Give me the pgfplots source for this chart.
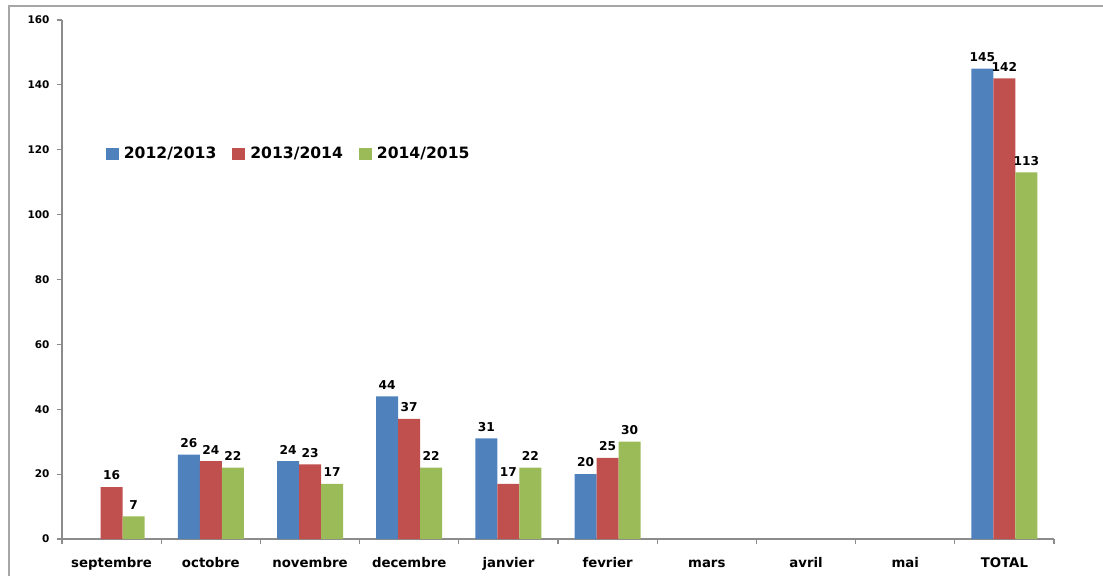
\documentclass[border=0pt]{standalone}
\usepackage{fontspec}
\setmainfont{DejaVu Sans}
\usepackage{pgfplots}
\pgfplotsset{compat=1.18}
\definecolor{cblue}{HTML}{4F81BD}
\definecolor{cred}{HTML}{C0504D}
\definecolor{cgreen}{HTML}{9BBB59}
\definecolor{axgray}{HTML}{8C8C8C}
\definecolor{framegray}{HTML}{A6A6A6}
\begin{document}
\begin{tikzpicture}
\useasboundingbox (0,0) rectangle (1103pt,576pt);
\draw[framegray, line width=1.5pt] (9pt,0) -- (9pt,570pt) -- (1103pt,570pt);
\begin{axis}[
 at={(62pt,37pt)}, anchor=south west,
 scale only axis, width=992pt, height=519pt,
 xmin=-0.5, xmax=9.5, ymin=0, ymax=160,
 ytick={0,20,...,160},
 xtick={0,...,9},
 xticklabels={septembre,octobre,novembre,decembre,janvier,fevrier,mars,avril,mai,TOTAL},
 minor xtick={-0.5,0.5,...,9.5},
 major x tick style={draw=none},
 axis x line*=bottom, axis y line*=left,
 axis line style={axgray, line width=1.5pt, -},
 tick style={axgray, line width=1.2pt},
 tick align=outside,
 major tick length=5pt, minor tick length=5pt,
 /pgf/number format/assume math mode=true,
 yticklabel style={font=\fontsize{10.5}{12}\selectfont\bfseries, text=black, xshift=-4pt},
 xticklabel style={font=\fontsize{13.3}{15}\selectfont\bfseries, text=black, anchor=base, yshift=-23pt},
 ybar=0pt, bar width=22pt,
 nodes near coords,
 every node near coord/.append style={font=\fontsize{12.2}{14}\selectfont\bfseries, text=black, yshift=3.5pt},
 legend style={draw=none, fill=none, at={(0.044,0.742)}, anchor=west, legend columns=3,
   font=\fontsize{15.6}{18}\selectfont\bfseries, inner sep=0pt,
   /tikz/every odd column/.append style={column sep=3pt},
   /tikz/every even column/.append style={column sep=14pt}},
 legend image code/.code={\path[#1,draw=none] (0pt,-6pt) rectangle (13pt,6pt);},
]
\addplot[fill=cblue, draw=none] coordinates {(1,26)(2,24)(3,44)(4,31)(5,20)(9,145)};
\addplot[fill=cred, draw=none] coordinates {(0,16)(1,24)(2,23)(3,37)(4,17)(5,25)(9,142)};
\addplot[fill=cgreen, draw=none] coordinates {(0,7)(1,22)(2,17)(3,22)(4,22)(5,30)(9,113)};
\legend{2012/2013,2013/2014,2014/2015}
\end{axis}
\end{tikzpicture}
\end{document}
